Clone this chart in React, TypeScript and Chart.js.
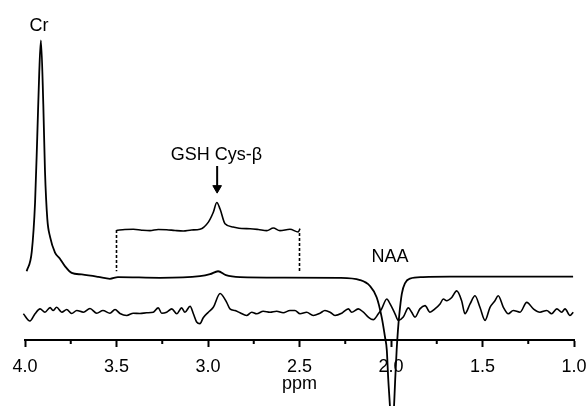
import React, { useEffect, useRef } from "react";
import { Chart, registerables } from "chart.js";

Chart.register(...registerables);

// ppm positions and intensities (a.u., main baseline = 0, Cr peak = 240)
const mainPpm = [3.991, 3.963, 3.945, 3.933, 3.922, 3.913, 3.9, 3.891, 3.878, 3.863, 3.836, 3.81, 3.781, 3.745, 3.69, 3.6, 3.536, 3.492, 3.262, 3.044, 2.989, 2.945, 2.902, 2.825, 2.607, 2.279, 2.169, 2.115, 2.078, 2.051, 2.033, 2.023, 2.015, 2.005, 1.995, 1.984, 1.977, 1.969, 1.962, 1.954, 1.941, 1.923, 1.896, 1.825, 1.678, 1.404, 1.005];
const mainVal = [5, 25, 75, 142, 208, 240, 175, 108, 58, 40, 24, 18, 10, 3.3, 1.7, -0.7, -2.7, -1, -1.7, 0, 2, 5, 1, -1, -1.5, -1.7, -4, -10, -21.7, -41.7, -61.7, -75, -105, -135, -175, -135, -105, -75, -55, -38, -18, -7, -2.5, -1, -0.5, -0.5, -0.5];

const insetPpm = [3.499, 3.454, 3.408, 3.362, 3.317, 3.272, 3.226, 3.18, 3.135, 3.09, 3.044, 2.998, 2.971, 2.952, 2.934, 2.907, 2.862, 2.816, 2.77, 2.725, 2.679, 2.643, 2.607, 2.552, 2.507, 2.497];
const insetVal = [46.7, 47.5, 47.7, 46.8, 46.3, 47.5, 47.3, 46.5, 46, 47, 47.7, 55, 65, 75, 68.3, 53.3, 50, 48.5, 48.3, 47.5, 46.3, 49, 46.3, 47.7, 45, 48.3];

const residPpm = [4.009, 3.973, 3.945, 3.918, 3.891, 3.863, 3.847, 3.827, 3.799, 3.772, 3.745, 3.717, 3.681, 3.645, 3.608, 3.574, 3.536, 3.508, 3.481, 3.444, 3.408, 3.372, 3.335, 3.299, 3.272, 3.253, 3.226, 3.198, 3.171, 3.144, 3.126, 3.098, 3.08, 3.062, 3.044, 3.026, 2.998, 2.971, 2.934, 2.898, 2.88, 2.852, 2.825, 2.789, 2.761, 2.734, 2.698, 2.661, 2.625, 2.589, 2.552, 2.525, 2.497, 2.461, 2.425, 2.388, 2.361, 2.333, 2.306, 2.269, 2.233, 2.215, 2.179, 2.151, 2.124, 2.097, 2.069, 2.051, 2.023, 2.005, 1.978, 1.96, 1.933, 1.905, 1.887, 1.869, 1.842, 1.814, 1.787, 1.76, 1.732, 1.714, 1.696, 1.668, 1.641, 1.614, 1.596, 1.568, 1.541, 1.514, 1.486, 1.459, 1.432, 1.414, 1.386, 1.359, 1.332, 1.295, 1.258, 1.222, 1.186, 1.149, 1.122, 1.094, 1.067, 1.049, 1.022, 1.004];
const residVal = [-38.3, -45.7, -38.3, -33.3, -36.7, -32, -35, -31.7, -36.7, -34, -38, -35, -36.7, -33, -37.7, -35, -37.7, -34, -38, -40, -37.7, -38, -37.3, -36.7, -32.3, -37.7, -36.7, -33.3, -38.3, -32.3, -36.7, -30.7, -38.3, -46.7, -48.3, -42.3, -36.7, -31.7, -17.7, -26.7, -33.3, -35, -37.3, -40, -36.7, -38.3, -35.7, -36.7, -35.7, -37.3, -35, -35, -38.3, -36.7, -40, -37.7, -35, -36.7, -40, -37.7, -33.3, -36.7, -33.3, -36.7, -41.7, -44.3, -38.3, -33.3, -23.3, -28.3, -38.3, -45, -41.7, -32.3, -36.7, -41.7, -33.3, -30, -36.7, -33.3, -28.3, -23.3, -25, -21.7, -15, -25, -38.3, -28.3, -20, -31.7, -45, -31.7, -25, -20, -31.7, -38.3, -35, -36.7, -26.7, -33.3, -36.7, -35, -38.3, -33.3, -36.7, -33.3, -40, -36.7];

const bracketPpm = [3.5, 2.5];
const bracketTop = [47, 44];
const bracketBottom = [5, 5];

const arrowPpm = 2.95;
const arrowTop = 112;
const arrowHeadVal = 89.6;

const majorTicks = [4.0, 3.5, 3.0, 2.5, 2.0, 1.5, 1.0];
const tickLabels = ["4.0", "3.5", "3.0", "2.5", "2.0", "1.5", "1.0"];
const minorTicks = [3.75, 3.25, 2.75, 2.25, 1.75, 1.25];

const labelTexts = ["Cr", "GSH Cys-\u03b2", "NAA"];
const labelPpm = [3.923, 2.954, 2.005];
const labelVal = [255, 123.5, 19.5];

const FONT = "'Liberation Sans', Arial, sans-serif";

const zip = (xs: number[], ys: number[]) => xs.map((x, i) => ({ x, y: ys[i] }));

export default function App() {
  const ref = useRef<HTMLCanvasElement | null>(null);
  useEffect(() => {
    if (!ref.current) return;
    const annot = {
      id: "annot",
      afterDraw(chart: any) {
        const { ctx, scales } = chart;
        const xs = scales.x;
        const ys = scales.y;
        ctx.save();
        ctx.strokeStyle = "#000";
        ctx.lineWidth = 2;
        const axisY = chart.chartArea.bottom;
        minorTicks.forEach((t) => {
          const px = xs.getPixelForValue(t);
          ctx.beginPath();
          ctx.moveTo(px, axisY);
          ctx.lineTo(px, axisY + 4);
          ctx.stroke();
        });
        ctx.fillStyle = "#000";
        ctx.font = `18px ${FONT}`;
        ctx.textAlign = "center";
        ctx.textBaseline = "middle";
        labelTexts.forEach((t, i) => {
          ctx.fillText(t, xs.getPixelForValue(labelPpm[i]), ys.getPixelForValue(labelVal[i]));
        });
        ctx.restore();
      },
    };
    const lineDs = (data: any[], width: number, extra: any = {}) => ({
      data,
      showLine: true,
      borderColor: "#000",
      borderWidth: width,
      pointRadius: 0,
      tension: 0,
      clip: false,
      ...extra,
    });
    const smooth = { cubicInterpolationMode: "monotone" };
    const chart = new Chart(ref.current, {
      type: "scatter",
      data: {
        datasets: [
          lineDs(zip(mainPpm, mainVal), 1.8, smooth),
          lineDs(zip(insetPpm, insetVal), 1.6, smooth),
          lineDs(zip(residPpm, residVal), 1.6, smooth),
          lineDs([{ x: bracketPpm[0], y: bracketTop[0] }, { x: bracketPpm[0], y: bracketBottom[0] }], 1.6, { borderDash: [3, 2] }),
          lineDs([{ x: bracketPpm[1], y: bracketTop[1] }, { x: bracketPpm[1], y: bracketBottom[1] }], 1.6, { borderDash: [3, 2] }),
          lineDs([{ x: arrowPpm, y: arrowTop }, { x: arrowPpm, y: arrowHeadVal + 2 }], 2),
          {
            data: [{ x: arrowPpm, y: arrowHeadVal }],
            showLine: false,
            pointRadius: 5,
            pointStyle: "triangle",
            rotation: 180,
            backgroundColor: "#000",
            borderColor: "#000",
            borderWidth: 1,
            clip: false,
          },
        ],
      },
      options: {
        animation: false,
        responsive: false,
        events: [],
        layout: { padding: { left: 25, right: 14, top: 0, bottom: 0 } },
        plugins: { legend: { display: false }, tooltip: { enabled: false } },
        scales: {
          x: {
            type: "linear",
            min: 1,
            max: 4,
            reverse: true,
            afterBuildTicks: (scale: any) => {
              scale.ticks = majorTicks.map((v) => ({ value: v }));
            },
            afterFit: (scale: any) => {
              scale.height = 66;
              scale.paddingLeft = 0;
              scale.paddingRight = 0;
            },
            border: { display: true, color: "#000", width: 2 },
            grid: { display: true, drawOnChartArea: false, drawTicks: true, tickLength: 7, tickWidth: 2, tickColor: "#000" },
            ticks: {
              color: "#000",
              font: { family: FONT, size: 18 },
              padding: 9,
              maxRotation: 0,
              autoSkip: false,
              callback: (v: any) => {
                const i = majorTicks.findIndex((t) => Math.abs(t - Number(v)) < 1e-6);
                return i >= 0 ? tickLabels[i] : "";
              },
            },
            title: { display: true, text: "ppm", color: "#000", font: { family: FONT, size: 18 }, padding: { top: 0, bottom: 11 } },
          },
          y: { display: false, min: -65, max: 275 },
        },
      },
      plugins: [annot],
    } as any);
    return () => chart.destroy();
  }, []);
  return (
    <div style={{ position: "absolute", left: 0, top: 0, width: 588, height: 406, background: "#fff" }}>
      <canvas ref={ref} width={588} height={406} style={{ width: 588, height: 406 }} />
    </div>
  );
}
